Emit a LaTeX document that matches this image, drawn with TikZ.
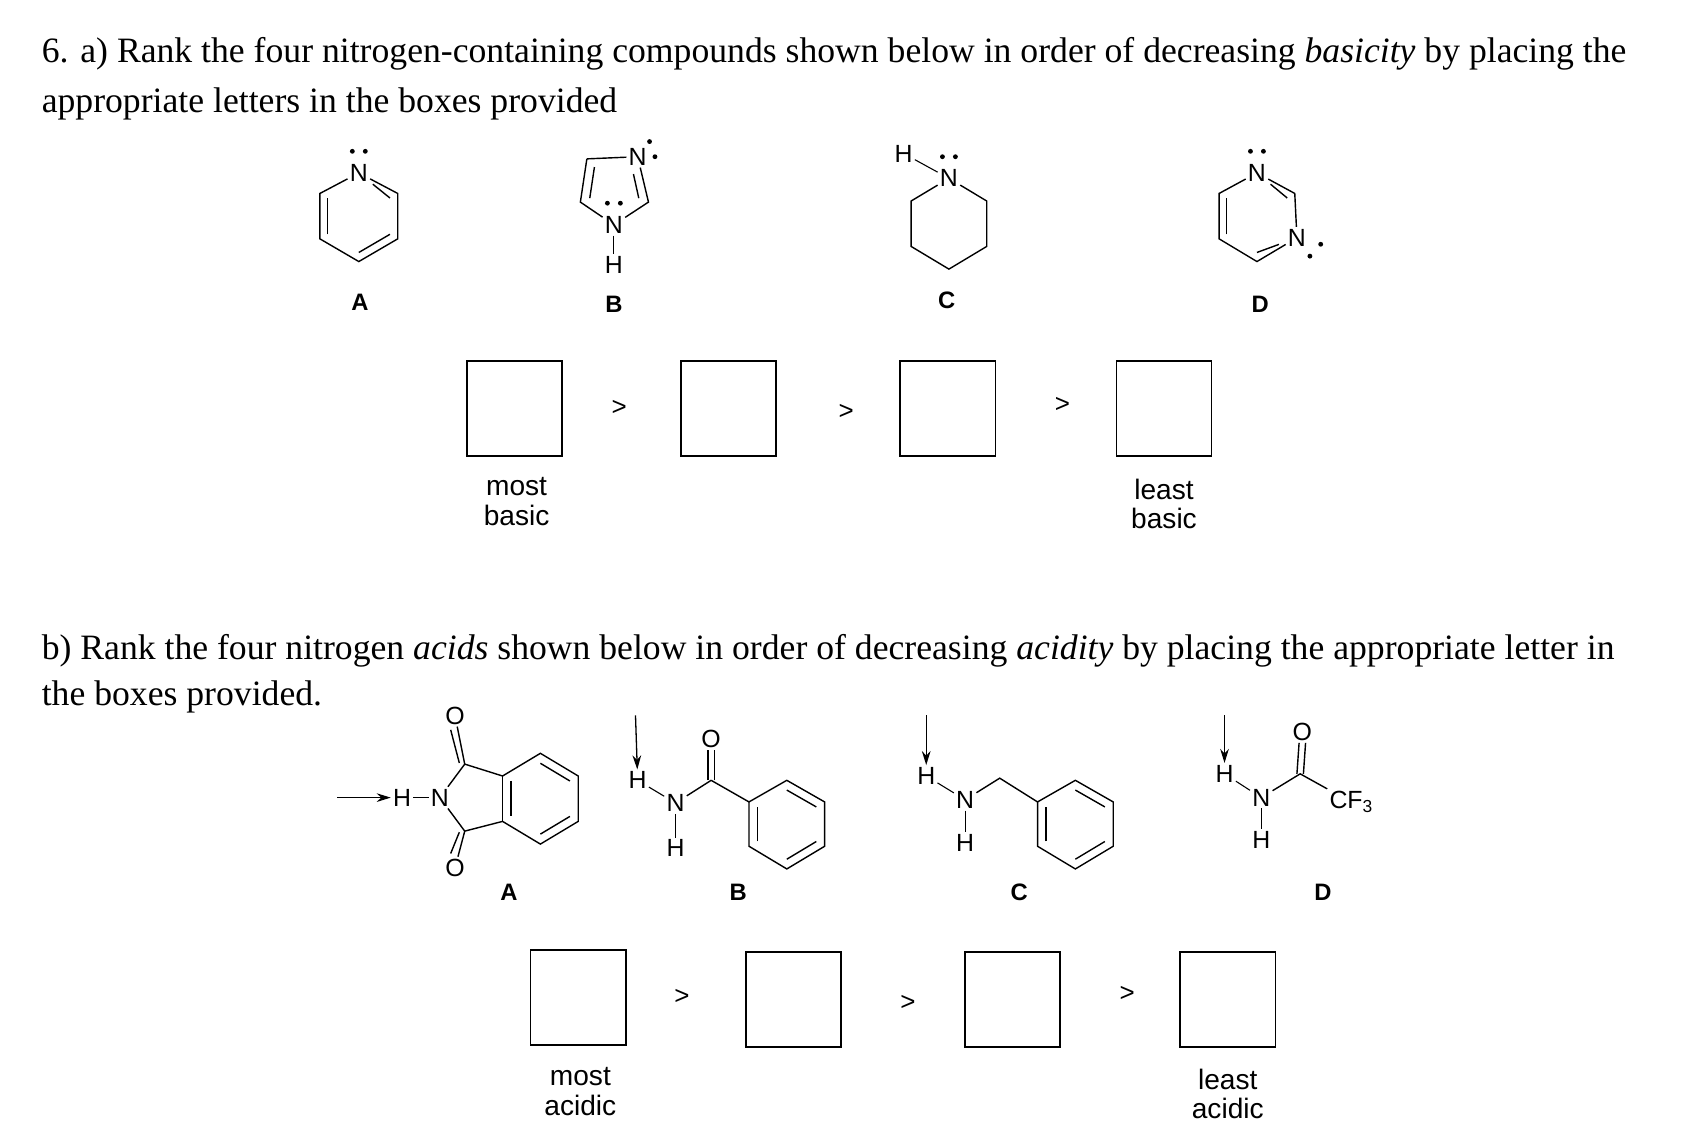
\documentclass[tikz,border=0pt]{standalone}
\usepackage{fontspec}
\setmainfont{Liberation Serif}
\newfontfamily\asf{Liberation Sans}
\usetikzlibrary{calc,arrows.meta}
\begin{document}
\begin{tikzpicture}[x=1pt,y=-1pt,line width=1.3pt,
  atom/.style={font=\asf\fontsize{23}{23}\selectfont,inner sep=1.5pt},
  lbl/.style={font=\asf\bfseries\fontsize{22}{22}\selectfont},
  captxt/.style={font=\asf\fontsize{26}{27}\selectfont,align=center,inner sep=0},
  txt/.style={font=\fontsize{33}{33}\selectfont,anchor=west,inner sep=0},
  ansbox/.style={draw,line width=1.5pt,minimum size=88pt,inner sep=0},
  gt/.style={font=\asf\fontsize{24}{24}\selectfont},
  dot/.style={fill,circle,inner sep=0,minimum size=4.5pt},
  arr/.style={-{Stealth[length=13pt,width=8pt]},line width=1.2pt}]
\useasboundingbox (0,0) rectangle (1560,1062);
\node[txt] (t1) at (38,50) {6. a) Rank the four nitrogen-containing compounds shown below in order of decreasing \textit{basicity} by placing the};
\node[txt] (t2) at (38,96) {appropriate letters in the boxes provided};
\node[txt] (t3) at (38,602) {b) Rank the four nitrogen \textit{acids} shown below in order of decreasing \textit{acidity} by placing the appropriate letter in};
\node[txt] (t4) at (38,645) {the boxes provided.};
% ---- A pyridine
\coordinate (ac) at (332,200);
\node[atom] (aN) at (332,160) {N};
\coordinate (a2) at (368,179); \coordinate (a3) at (368,221); \coordinate (a4) at (332,242);
\coordinate (a5) at (296,221); \coordinate (a6) at (296,179);
\draw (aN)--(a2)--(a3)--(a4)--(a5)--(a6)--(aN);
\draw ($(ac)!0.8!(a2)$)--($(ac)!0.8!(a2)!0.55!(aN)$);
\draw ($(ac)!0.8!(a3)$)--($(ac)!0.8!(a4)$);
\draw ($(ac)!0.8!(a5)$)--($(ac)!0.8!(a6)$);
\node[dot] (ad1) at (326,140) {}; \node[dot] (ad2) at (338,140) {};
\node[lbl] (lA) at (333,280) {A};
% ---- B imidazole
\coordinate (bc) at (568,174);
\node[atom] (bN3) at (590,145) {N};
\coordinate (bC2) at (600,187);
\node[atom] (bN1) at (568,208) {N};
\coordinate (bC5) at (537,187); \coordinate (bC4) at (543,147);
\draw (bC4)--(bN3)--(bC2)--(bN1)--(bC5)--(bC4);
\draw ($(bc)!0.72!(bC4)$)--($(bc)!0.72!(bC5)$);
\draw ($(bc)!0.72!(bC2)$)--($(bc)!0.55!(bN3)+(6,3)$);
\node[atom] (bH) at (568,245) {H};
\draw[line width=1pt] (bN1)--(bH);
\node[dot] (bd1) at (601,131) {}; \node[dot] (bd2) at (606,145) {};
\node[dot] (bd3) at (562,188) {}; \node[dot] (bd4) at (574,188) {};
\node[lbl] (lB) at (568,282) {B};
% ---- C piperidine
\node[atom] (cN) at (878,165) {N};
\coordinate (c2) at (913,186); \coordinate (c3) at (913,228); \coordinate (c4) at (878,249);
\coordinate (c5) at (843,228); \coordinate (c6) at (843,186);
\draw (cN)--(c2)--(c3)--(c4)--(c5)--(c6)--(cN);
\node[atom] (cH) at (836,142) {H};
\draw[line width=1pt] (cH)--(cN);
\node[dot] (cd1) at (872,145) {}; \node[dot] (cd2) at (884,145) {};
\node[lbl] (lC) at (876,278) {C};
% ---- D pyrimidine
\coordinate (dc) at (1163,200);
\node[atom] (dN1) at (1163,160) {N};
\coordinate (d2) at (1198,179);
\node[atom] (dN3) at (1200,220) {N};
\coordinate (d4) at (1163,242); \coordinate (d5) at (1128,221); \coordinate (d6) at (1128,179);
\draw (dN1)--(d2)--(dN3)--(d4)--(d5)--(d6)--(dN1);
\draw ($(dc)!0.8!(d2)$)--($(dc)!0.8!(d2)!0.55!(dN1)$);
\draw ($(dc)!0.8!(d4)$)--($(dc)!0.8!(d4)!0.55!(dN3)$);
\draw ($(dc)!0.8!(d5)$)--($(dc)!0.8!(d6)$);
\node[dot] (dd1) at (1157,140) {}; \node[dot] (dd2) at (1169,140) {};
\node[dot] (dd3) at (1212,237) {}; \node[dot] (dd4) at (1222,226) {};
\node[lbl] (lD) at (1166,282) {D};
% ---- boxes a
\node[ansbox] (ba1) at (476,378) {};
\node[ansbox] (ba2) at (674,378) {};
\node[ansbox] (ba3) at (877,378) {};
\node[ansbox] (ba4) at (1077,378) {};
\node[gt] (ga1) at (573,377) {>};
\node[gt] (ga2) at (783,381) {>};
\node[gt] (ga3) at (983,375) {>};
\node[captxt] (ma) at (478,464) {most\\basic};
\node[captxt] (la) at (1077,466) {least\\basic};
% ---- b A phthalimide
\node[atom] (pH) at (372,738) {H};
\node[atom] (pN) at (407,738) {N};
\coordinate (parr) at (312,738);
\draw[arr] (parr)--(pH);
\draw[line width=1pt] (pH)--(pN);
\coordinate (pC1) at (430,707); \coordinate (pC2) at (430,769);
\coordinate (pa) at (465,718); \coordinate (pb) at (465,760);
\coordinate (p3) at (500,697); \coordinate (p4) at (535,718); \coordinate (p5) at (535,760); \coordinate (p6) at (500,781);
\coordinate (pc) at (500,739);
\draw (pN)--(pC1)--(pa)--(p3)--(p4)--(p5)--(p6)--(pb)--(pC2)--(pN);
\draw (pa)--(pb);
\draw ($(pc)!0.78!(pa)$)--($(pc)!0.78!(pb)$);
\draw ($(pc)!0.78!(p3)$)--($(pc)!0.78!(p4)$);
\draw ($(pc)!0.78!(p5)$)--($(pc)!0.78!(p6)$);
\node[atom] (pO1) at (421,662) {O};
\node[atom] (pO2) at (421,803) {O};
\draw (pC1)--(pO1);
\draw ($(pC1)+(-5,-1)$)--($(pO1.south)+(-4,3)$);
\draw (pC2)--(pO2);
\draw ($(pC2)+(-5,1)$)--($(pO2.north)+(-4,-3)$);
\node[lbl] (lbA) at (471,826) {A};
% ---- b B benzamide
\node[atom] (qH) at (590,722) {H};
\node[atom] (qN) at (625,743) {N};
\node[atom] (qH2) at (625,785) {H};
\coordinate (qarr) at (588,662);
\draw[arr] (qarr)--(qH);
\draw[line width=1pt] (qH)--(qN); \draw[line width=1pt] (qN)--(qH2);
\coordinate (qC) at (658,722);
\node[atom] (qO) at (658,684) {O};
\draw (qN)--(qC); \draw ($(qC)+(-3,0)$)--($(qO.south)+(-3,0)$); \draw ($(qC)+(3,0)$)--($(qO.south)+(3,0)$);
\coordinate (q1) at (693,742); \coordinate (q2) at (728,722); \coordinate (q3) at (763,742);
\coordinate (q4) at (763,783); \coordinate (q5) at (728,804); \coordinate (q6) at (693,783);
\coordinate (qc) at (728,763);
\draw (qC)--(q1)--(q2)--(q3)--(q4)--(q5)--(q6)--(q1);
\draw ($(qc)!0.78!(q2)$)--($(qc)!0.78!(q3)$);
\draw ($(qc)!0.78!(q4)$)--($(qc)!0.78!(q5)$);
\draw ($(qc)!0.78!(q6)$)--($(qc)!0.78!(q1)$);
\node[lbl] (lbB) at (683,826) {B};
% ---- b C benzylamine
\node[atom] (rH) at (857,718) {H};
\node[atom] (rN) at (893,740) {N};
\node[atom] (rH2) at (893,780) {H};
\coordinate (rarr) at (857,662);
\draw[arr] (rarr)--(rH);
\draw[line width=1pt] (rH)--(rN); \draw[line width=1pt] (rN)--(rH2);
\coordinate (rC) at (925,720);
\coordinate (r1) at (960,742); \coordinate (r2) at (995,722); \coordinate (r3) at (1030,742);
\coordinate (r4) at (1030,783); \coordinate (r5) at (995,804); \coordinate (r6) at (960,783);
\coordinate (rc) at (995,763);
\draw (rN)--(rC)--(r1)--(r2)--(r3)--(r4)--(r5)--(r6)--(r1);
\draw ($(rc)!0.78!(r2)$)--($(rc)!0.78!(r3)$);
\draw ($(rc)!0.78!(r4)$)--($(rc)!0.78!(r5)$);
\draw ($(rc)!0.78!(r6)$)--($(rc)!0.78!(r1)$);
\node[lbl] (lbC) at (943,826) {C};
% ---- b D trifluoroacetamide
\node[atom] (sH) at (1133,716) {H};
\node[atom] (sN) at (1167,738) {N};
\node[atom] (sH2) at (1167,777) {H};
\coordinate (sarr) at (1133,662);
\draw[arr] (sarr)--(sH);
\draw[line width=1pt] (sH)--(sN); \draw[line width=1pt] (sN)--(sH2);
\coordinate (sC) at (1203,716);
\node[atom] (sO) at (1205,677) {O};
\draw ($(sC)+(-3,0)$)--($(sO.south)+(-3,0)$); \draw ($(sC)+(3,0)$)--($(sO.south)+(3,0)$);
\node[atom,anchor=west] (sCF) at (1228,742) {CF\textsubscript{3}};
\draw (sN)--(sC)--(sCF.north west);
\node[lbl] (lbD) at (1224,826) {D};
% ---- boxes b
\node[ansbox] (bb1) at (535,923) {};
\node[ansbox] (bb2) at (734,925) {};
\node[ansbox] (bb3) at (937,925) {};
\node[ansbox] (bb4) at (1136,925) {};
\node[gt] (gb1) at (631,922) {>};
\node[gt] (gb2) at (840,928) {>};
\node[gt] (gb3) at (1043,920) {>};
\node[captxt] (mb) at (537,1010) {most\\acidic};
\node[captxt] (lb) at (1136,1012) {least\\acidic};
\end{tikzpicture}
\end{document}
